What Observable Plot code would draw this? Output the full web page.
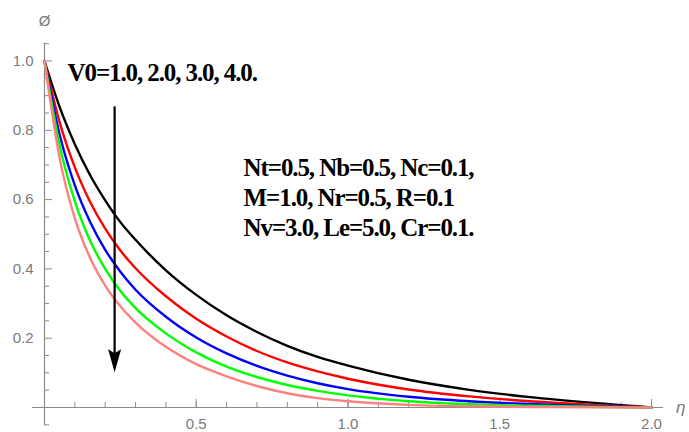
<!DOCTYPE html>
<html>
<head>
<meta charset="utf-8">
<script src="https://cdn.jsdelivr.net/npm/d3@7"></script>
<script src="https://cdn.jsdelivr.net/npm/@observablehq/plot@0.6"></script>
<style>
  html, body { margin: 0; padding: 0; background: #fff; }
  #chart { width: 689px; height: 432px; }
</style>
</head>
<body>
<div id="chart"></div>
<script>
// Similarity variable η and concentration profiles ø(η), one array per curve
const eta  = [0, 0.05, 0.1, 0.15, 0.2, 0.25, 0.3, 0.4, 0.5, 0.6, 0.7, 0.8, 0.9, 1.0, 1.2, 1.4, 1.6, 1.8, 1.9, 2.0];
const phi1 = [1, 0.867, 0.760, 0.671, 0.598, 0.535, 0.484, 0.396, 0.325, 0.266, 0.218, 0.178, 0.146, 0.121, 0.080, 0.051, 0.030, 0.014, 0.007, 0];
const phi2 = [1, 0.823, 0.693, 0.594, 0.516, 0.453, 0.402, 0.321, 0.256, 0.205, 0.163, 0.130, 0.104, 0.083, 0.052, 0.032, 0.018, 0.008, 0.004, 0];
const phi3 = [1, 0.787, 0.641, 0.536, 0.455, 0.392, 0.340, 0.262, 0.202, 0.156, 0.120, 0.092, 0.070, 0.053, 0.031, 0.018, 0.010, 0.004, 0.002, 0];
const phi4 = [1, 0.756, 0.595, 0.482, 0.400, 0.336, 0.287, 0.214, 0.159, 0.118, 0.088, 0.065, 0.048, 0.035, 0.018, 0.0095, 0.005, 0.002, 0.001, 0];
const phi5 = [1, 0.719, 0.546, 0.432, 0.352, 0.292, 0.245, 0.175, 0.125, 0.090, 0.062, 0.041, 0.027, 0.018, 0.0075, 0.0035, 0.0015, 0.0005, 0.0002, 0];
const curves = [phi1, phi2, phi3, phi4, phi5];
const curveColors = ["#000000", "#ff0000", "#0000ff", "#00ff00", "#ff8080"];

// Axis ticks and labels
const xMinorTicks = [0.1, 0.2, 0.3, 0.4, 0.5, 0.6, 0.7, 0.8, 0.9, 1.0, 1.1, 1.2, 1.3, 1.4, 1.5, 1.6, 1.7, 1.8, 1.9, 2.0];
const xMajorTicks = [0.5, 1.0, 1.5, 2.0];
const yMinorTicks = [-0.05, 0.05, 0.1, 0.15, 0.25, 0.3, 0.35, 0.45, 0.5, 0.55, 0.65, 0.7, 0.75, 0.85, 0.9, 0.95, 1.05];
const yMajorTicks = [0.2, 0.4, 0.6, 0.8, 1.0];
const xAxisExtent = [-0.04, 2.04];
const yAxisExtent = [-0.053, 1.052];
const xAxisTitle = "η";
const yAxisTitle = "Ø";

// Annotations: parameter notes and the downward arrow showing increasing V0
const noteV0 = "V0=1.0, 2.0, 3.0, 4.0.";
const noteV0At = [0.076, 0.965];
const noteParams = ["Nt=0.5, Nb=0.5, Nc=0.1,", "M=1.0, Nr=0.5, R=0.1", "Nv=3.0, Le=5.0, Cr=0.1."];
const noteParamsAt = [0.656, 0.609];
const arrowEta = [0.231];
const arrowFrom = [0.869];
const arrowTo = [0.102];

const rows = curves.flatMap((c, k) => eta.map((e, i) => ({eta: e, phi: c[i], k})));

const axisGray = "#8a8a8a";
const labelGray = "#7a7a7a";
const sans = "'Liberation Sans', Arial, sans-serif";
const serif = "'Liberation Serif', 'Times New Roman', serif";

// Filled arrowhead with a slightly notched back; the tip sits on the anchor point
const arrowHead = {
  draw(context) {
    context.moveTo(0, 0);
    context.lineTo(-6.5, -23);
    context.lineTo(0, -19);
    context.lineTo(6.5, -23);
    context.closePath();
  }
};

const chart = Plot.plot({
  width: 689,
  height: 432,
  marginLeft: 44,
  marginRight: 38,
  marginTop: 60.5,
  marginBottom: 25,
  x: {domain: [0, 2]},
  y: {domain: [0, 1]},
  color: {domain: d3.range(curves.length), range: curveColors},
  style: {background: "#fff", overflow: "visible", fontFamily: sans},
  marks: [
    // axis lines crossing at the origin
    Plot.ruleY([0], {x1: xAxisExtent[0], x2: xAxisExtent[1], stroke: axisGray, strokeWidth: 1.2}),
    Plot.ruleX([0], {y1: yAxisExtent[0], y2: yAxisExtent[1], stroke: axisGray, strokeWidth: 1.2}),
    // inward tick marks
    Plot.axisX(xMinorTicks, {anchor: "bottom", tickSize: 5, dy: -5, fill: "none", stroke: axisGray, label: null}),
    Plot.axisX(xMajorTicks, {anchor: "bottom", tickSize: 8, dy: -8, fill: "none", stroke: axisGray, label: null}),
    Plot.axisY(yMinorTicks, {anchor: "left", tickSize: 5, dx: 5, fill: "none", stroke: axisGray, label: null}),
    Plot.axisY(yMajorTicks, {anchor: "left", tickSize: 8, dx: 8, fill: "none", stroke: axisGray, label: null}),
    // tick labels
    Plot.axisX(xMajorTicks, {anchor: "bottom", tickSize: 0, tickPadding: 11, tickFormat: d3.format(".1f"),
      fill: labelGray, fontSize: 15, label: null}),
    Plot.axisY(yMajorTicks, {anchor: "left", tickSize: 0, tickPadding: 11, tickFormat: d3.format(".1f"),
      fill: labelGray, fontSize: 15, label: null}),
    // axis titles
    Plot.text([xAxisTitle], {x: 2.096, y: 0, text: d => d, fill: labelGray, fontSize: 17, fontStyle: "italic"}),
    Plot.text([yAxisTitle], {x: 0, y: 1.114, text: d => d, fill: labelGray, fontSize: 15}),
    // profiles
    Plot.line(rows, {x: "eta", y: "phi", z: "k", stroke: "k", strokeWidth: 2.4, curve: "monotone-x"}),
    // arrow
    Plot.link(arrowEta, {x1: d => d, x2: d => d, y1: arrowFrom, y2: arrowTo.map(v => v + 0.03), stroke: "#000", strokeWidth: 2.2}),
    Plot.dot(arrowEta, {x: d => d, y: arrowTo, symbol: arrowHead, fill: "#000", stroke: "none"}),
    // notes
    Plot.text([noteV0], {x: noteV0At[0], y: noteV0At[1], text: d => d, textAnchor: "start",
      fontFamily: serif, fontWeight: "bold", fontSize: 25, fill: "#000"}),
    Plot.text([noteParams.join("\n")], {x: noteParamsAt[0], y: noteParamsAt[1], text: d => d, textAnchor: "start",
      lineHeight: 1.2, fontFamily: serif, fontWeight: "bold", fontSize: 25, fill: "#000"})
  ]
});

// tighten the serif notes a little
d3.select(chart).selectAll("g[font-family*='Serif']").attr("letter-spacing", "-1.1px");

document.getElementById("chart").appendChild(chart);
</script>
</body>
</html>
